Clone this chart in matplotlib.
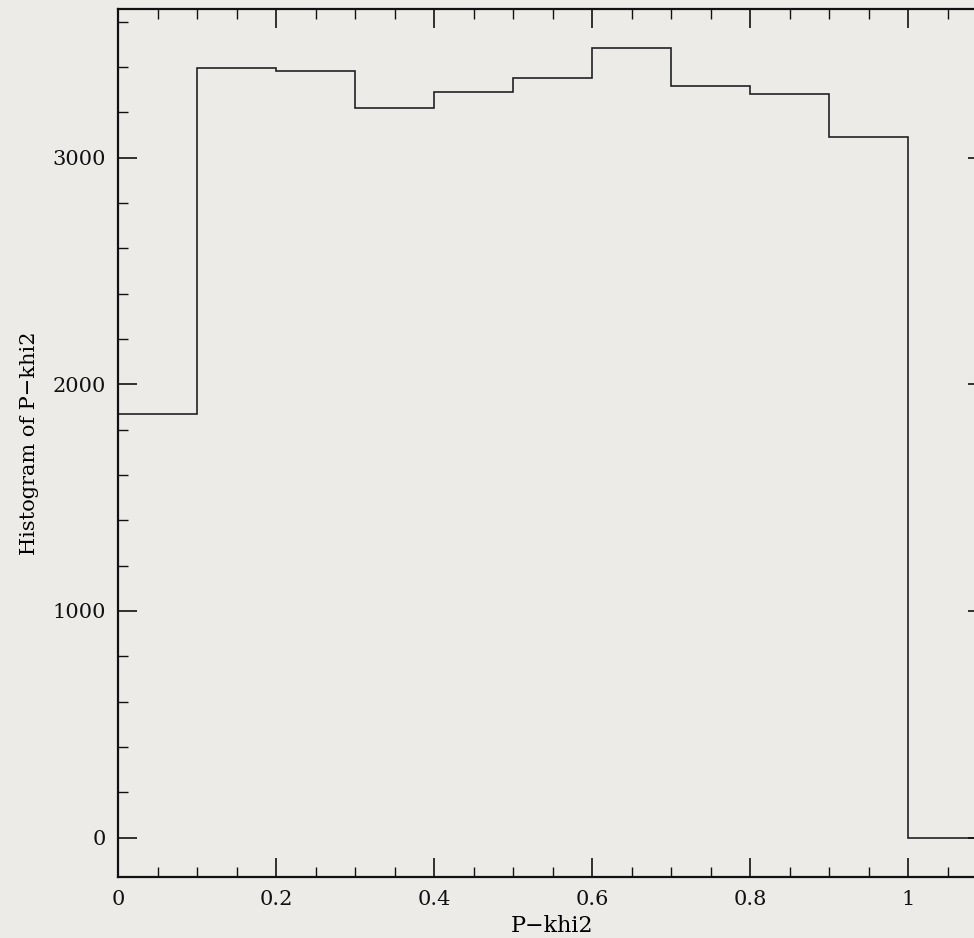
import numpy as np
import matplotlib
matplotlib.use("Agg")
import matplotlib.pyplot as plt
from matplotlib.ticker import MultipleLocator, FuncFormatter

bin_edges = [0.0, 0.1, 0.2, 0.3, 0.4, 0.5, 0.6, 0.7, 0.8, 0.9, 1.0, 1.1]
counts = [1870, 3396, 3383, 3219, 3289, 3352, 3482, 3316, 3283, 3092, 0]
xlabel = "P\u2212khi2"
ylabel = "Histogram of P\u2212khi2"

bg = "#ecebe8"
fig = plt.figure(figsize=(9.74, 9.38), dpi=100, facecolor=bg)
ax = fig.add_axes([118/974, 1-877/938, (987-118)/974, (877-9)/938])
ax.set_facecolor(bg)

ax.stairs(counts, bin_edges, color="#222222", linewidth=1.2)

ax.set_xlim(0, 1.1)
ax.set_ylim(-174, 3656)

ax.xaxis.set_major_locator(MultipleLocator(0.2))
ax.xaxis.set_minor_locator(MultipleLocator(0.05))
ax.yaxis.set_major_locator(MultipleLocator(1000))
ax.yaxis.set_minor_locator(MultipleLocator(200))

ax.xaxis.set_major_formatter(FuncFormatter(lambda v, p: "%g" % round(v, 6)))
ax.yaxis.set_major_formatter(FuncFormatter(lambda v, p: "%d" % round(v)))

fam = ["DejaVu Serif"]
ax.tick_params(which="both", direction="in", top=True, right=True, colors="#111111")
ax.tick_params(which="major", length=14, width=1.2, labelsize=15, pad=9)
ax.tick_params(which="minor", length=7, width=1.0)
for lab in ax.get_xticklabels() + ax.get_yticklabels():
    lab.set_family(fam)
for s in ax.spines.values():
    s.set_linewidth(1.6)
    s.set_color("#111111")

ax.set_xlabel(xlabel, fontsize=16, family=fam, labelpad=5)
ax.set_ylabel(ylabel, fontsize=15, family=fam, labelpad=9)

fig.savefig("out.png", dpi=100, facecolor=bg)
